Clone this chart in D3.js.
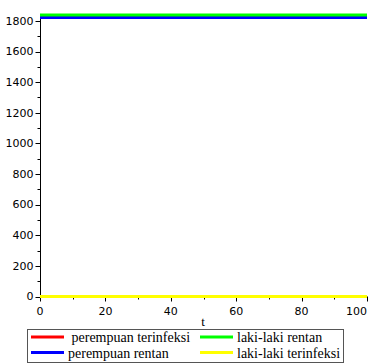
<!DOCTYPE html>
<html>
<head>
<meta charset="utf-8">
<script src="https://cdn.jsdelivr.net/npm/d3@7"></script>
<style>
  html, body { margin: 0; padding: 0; background: #fff; }
  svg { display: block; }
</style>
</head>
<body>
<svg id="chart" width="373" height="364"></svg>
<script>
// Time points of the simulation
const tValues = [0, 10, 20, 30, 40, 50, 60, 70, 80, 90, 100];

// Population of each compartment over time
const perempuanTerinfeksi = [0, 0, 0, 0, 0, 0, 0, 0, 0, 0, 0];
const perempuanRentan = [1822, 1822, 1822, 1822, 1822, 1822, 1822, 1822, 1822, 1822, 1822];
const lakiRentan = [1838, 1838, 1838, 1838, 1838, 1838, 1838, 1838, 1838, 1838, 1838];
const lakiTerinfeksi = [0, 0, 0, 0, 0, 0, 0, 0, 0, 0, 0];

const seriesNames = ["perempuan terinfeksi", "perempuan rentan", "laki-laki rentan", "laki-laki terinfeksi"];
const seriesColors = ["#ff0000", "#0000ff", "#00ff00", "#ffff00"];
const seriesValues = [perempuanTerinfeksi, perempuanRentan, lakiRentan, lakiTerinfeksi];

const xTicks = [0, 20, 40, 60, 80, 100];
const yTicks = [0, 200, 400, 600, 800, 1000, 1200, 1400, 1600, 1800];

const svg = d3.select("#chart");
const x = d3.scaleLinear().domain([0, 100]).range([40, 367]);
const y = d3.scaleLinear().domain([0, 1845]).range([296.5, 14]);

const tickFont = "'DejaVu Sans', sans-serif";
const serif = "'Liberation Serif', 'Times New Roman', serif";

// Y axis with major and minor ticks
const yAxis = svg.append("g").attr("transform", "translate(40.5,0)");
yAxis.append("line").attr("y1", y(0)).attr("y2", y(1845)).attr("stroke", "#000");
yAxis.selectAll("line.minor").data(d3.range(100, 1845, 200)).join("line")
  .attr("class", "minor").attr("x1", -3).attr("x2", 0)
  .attr("y1", d => Math.round(y(d)) + 0.5).attr("y2", d => Math.round(y(d)) + 0.5)
  .attr("stroke", "#000");
yAxis.selectAll("line.major").data(yTicks).join("line")
  .attr("class", "major").attr("x1", -5).attr("x2", 0)
  .attr("y1", d => Math.round(y(d)) + 0.5).attr("y2", d => Math.round(y(d)) + 0.5)
  .attr("stroke", "#000");
yAxis.selectAll("text").data(yTicks).join("text")
  .attr("x", -7).attr("y", d => y(d)).attr("dy", "0.35em")
  .attr("text-anchor", "end").attr("font-family", tickFont).attr("font-size", 11)
  .attr("fill", "#000").text(d => d);

// X axis with major and minor ticks
const xAxis = svg.append("g").attr("transform", "translate(0,296.5)");
xAxis.append("line").attr("x1", x(0)).attr("x2", x(100)).attr("stroke", "#000");
xAxis.selectAll("line.minor").data(d3.range(10, 100, 20)).join("line")
  .attr("class", "minor").attr("y1", 0).attr("y2", 3)
  .attr("x1", d => Math.round(x(d)) + 0.5).attr("x2", d => Math.round(x(d)) + 0.5)
  .attr("stroke", "#000");
xAxis.selectAll("line.major").data(xTicks).join("line")
  .attr("class", "major").attr("y1", 0).attr("y2", 5)
  .attr("x1", d => Math.round(x(d)) + 0.5).attr("x2", d => Math.round(x(d)) + 0.5)
  .attr("stroke", "#000");
// The last label is kept inside the right edge
xAxis.selectAll("text").data(xTicks).join("text")
  .attr("x", d => Math.min(x(d), 372)).attr("y", 18)
  .attr("text-anchor", d => x(d) + 10 > 372 ? "end" : "middle")
  .attr("font-family", tickFont).attr("font-size", 11)
  .attr("fill", "#000").text(d => d);

svg.append("text").attr("x", 203).attr("y", 326).attr("text-anchor", "middle")
  .attr("font-family", serif).attr("font-size", 13).text("t");

// Series lines
const line = d3.line().x((d, i) => x(tValues[i])).y(d => y(d));
seriesValues.forEach((vals, i) => {
  svg.append("path").datum(vals).attr("d", line)
    .attr("fill", "none").attr("stroke", seriesColors[i]).attr("stroke-width", 3);
});

// Legend
const legend = svg.append("g");
legend.append("rect").attr("x", 27.5).attr("y", 329.5).attr("width", 316).attr("height", 33)
  .attr("fill", "#fff").attr("stroke", "#555");
const legendItems = [
  { name: " perempuan terinfeksi", color: seriesColors[0], lx: 31, tx: 68, ty: 342 },
  { name: "perempuan rentan", color: seriesColors[1], lx: 31, tx: 68, ty: 357.5 },
  { name: "laki-laki rentan", color: seriesColors[2], lx: 200, tx: 237, ty: 342 },
  { name: "laki-laki terinfeksi", color: seriesColors[3], lx: 200, tx: 237, ty: 357.5 }
];
legendItems.forEach(it => {
  legend.append("line").attr("x1", it.lx).attr("x2", it.lx + 33)
    .attr("y1", it.ty - 5).attr("y2", it.ty - 5)
    .attr("stroke", it.color).attr("stroke-width", 3);
  legend.append("text").attr("x", it.tx).attr("y", it.ty)
    .attr("font-family", serif).attr("font-size", 14)
    .attr("xml:space", "preserve").style("white-space", "pre").text(it.name);
});
</script>
</body>
</html>
